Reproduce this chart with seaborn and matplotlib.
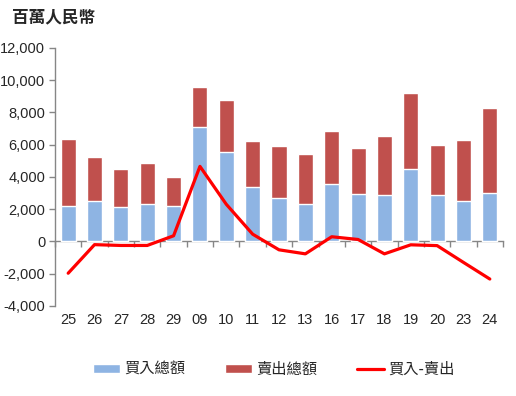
import matplotlib
matplotlib.use("Agg")
import matplotlib.pyplot as plt
from matplotlib.ticker import FuncFormatter, FixedLocator
import numpy as np
import pandas as pd
import seaborn as sns

# values (millions of RMB)
days = ["25", "26", "27", "28", "29", "09", "10", "11", "12",
        "13", "16", "17", "18", "19", "20", "23", "24"]
buy_total = [2170, 2480, 2110, 2300, 2170, 7080, 5530, 3350, 2670,
             2300, 3540, 2920, 2860, 4470, 2860, 2480, 2980]
sell_total = [4170, 2740, 2360, 2540, 1810, 2490, 3230, 2860, 3230,
              3100, 3290, 2860, 3660, 4720, 3100, 3790, 5280]
net_flow = [-1970, -200, -250, -250, 350, 4650, 2300, 450, -520,
            -770, 290, 120, -770, -210, -260, -1300, -2330]

BLUE = "#8EB4E3"
RED_BAR = "#C0504D"
RED_LINE = "#FF0000"
GRAY = "#868686"

sns.set_style("white")
plt.rcParams["font.family"] = ["Liberation Sans", "Noto Sans CJK TC", "DejaVu Sans"]
cjk = ["Noto Sans CJK TC", "DejaVu Sans"]

df = pd.DataFrame({"day": days, "buy": buy_total, "sell": sell_total, "net": net_flow})
df["stack_top"] = df["buy"] + df["sell"]

fig = plt.figure(figsize=(5.16, 3.96), dpi=100)
ax = fig.add_axes([0.1066, 0.2273, 0.8682, 0.6522])

# stacked bars: full height in red, buy part in blue on top
sns.barplot(data=df, x="day", y="stack_top", color=RED_BAR, saturation=1,
            width=0.57, ax=ax, label="賣出總額")
sns.barplot(data=df, x="day", y="buy", color=BLUE, saturation=1,
            width=0.57, ax=ax, label="買入總額")
sns.lineplot(x=np.arange(len(days)), y=df["net"].values, color=RED_LINE,
             linewidth=2.3, ax=ax, label="買入-賣出")

ax.set_xlim(-0.5, len(days) - 0.5)
ax.set_ylim(-4000, 12000)
ax.set_yticks(range(-4000, 12001, 2000))
ax.yaxis.set_major_formatter(FuncFormatter(lambda v, p: f"{int(v):,}"))
ax.set_xlabel("")
ax.set_ylabel("")

for side in ["top", "right", "bottom"]:
    ax.spines[side].set_visible(False)
ax.spines["left"].set_color(GRAY)
ax.spines["left"].set_linewidth(1)
ax.tick_params(axis="y", direction="out", length=4, width=1, color=GRAY,
               pad=3, labelsize=10.5, left=True)
ax.tick_params(axis="x", length=0, pad=5, labelsize=10.5)

# zero line with category boundary ticks
zero_frac = 4000 / 16000
sec = ax.secondary_xaxis(zero_frac)
sec.spines["bottom"].set_color(GRAY)
sec.spines["bottom"].set_linewidth(1)
sec.xaxis.set_major_locator(FixedLocator(np.arange(-0.5, len(days), 1.0)))
sec.tick_params(axis="x", direction="out", length=4, width=1, color=GRAY,
                labelbottom=False)

fig.text(0.023, 0.955, "百萬人民幣", fontsize=12, fontweight="bold",
         family=cjk, va="center", ha="left")

handles, labels = ax.get_legend_handles_labels()
order = [labels.index(l) for l in ["買入總額", "賣出總額", "買入-賣出"]]
ax.get_legend().remove()
fig.legend([handles[i] for i in order], [labels[i] for i in order],
           loc="center", bbox_to_anchor=(0.53, 0.068), ncol=3, frameon=False,
           prop={"family": cjk, "size": 11}, handlelength=1.8, handleheight=0.5,
           handletextpad=0.25, columnspacing=2.6)

fig.savefig("out.png", dpi=100)
